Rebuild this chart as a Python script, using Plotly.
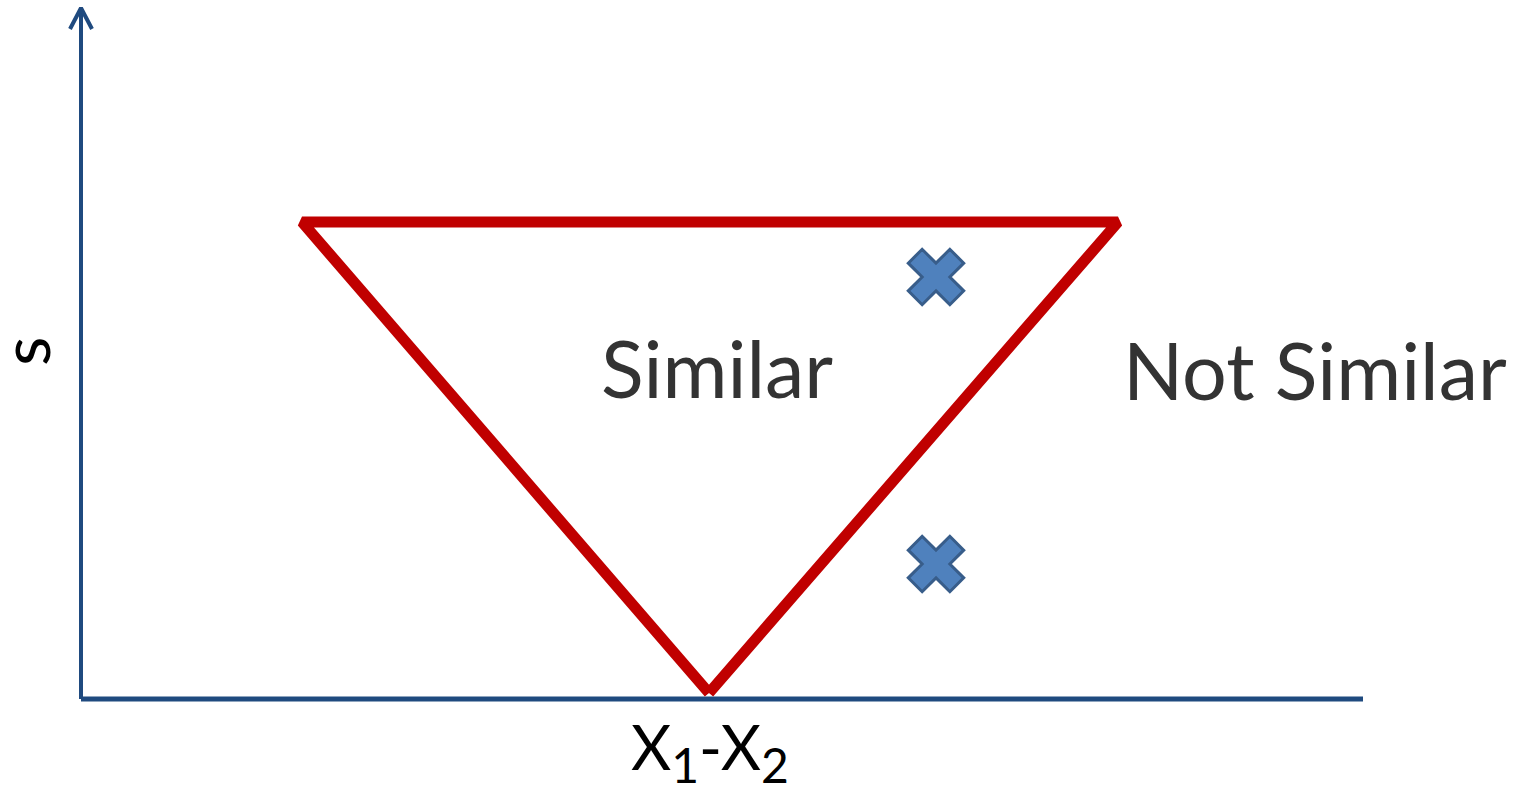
import plotly.graph_objects as go

# Chart-space coordinates (origin at the axes intersection)
axis_x_end = 1282
axis_y_end = 691

# Decision region (inverted triangle)
region_x = [628, 221, 1037, 628]
region_y = [6, 477, 477, 6]

# Sample points
point_x = [855, 855]
point_y = [422, 135]

# Arrow head on the vertical axis
arrow_x = [-11, 0, 11]
arrow_y = [670, 691, 670]

# Region labels
label_text = ["Similar", "Not Similar"]
label_x = [636, 1234]
label_y = [332, 330]

# Axis titles
x_title = ("X<sub><span style='font-size:48px'>1</span></sub>-"
           "X<sub><span style='font-size:48px'>2</span></sub>")
x_title_pos = (629, -52)
y_title = "s"
y_title_pos = (-58, 347)

BLUE = "#1F4A7F"
RED = "#C00000"

fig = go.Figure()

# x axis line
fig.add_trace(go.Scatter(x=[0, axis_x_end], y=[0, 0], mode="lines",
                         line=dict(color=BLUE, width=5), hoverinfo="skip"))
# y axis line
fig.add_trace(go.Scatter(x=[0, 0], y=[0, axis_y_end], mode="lines",
                         line=dict(color=BLUE, width=4), hoverinfo="skip"))
# arrow head
fig.add_trace(go.Scatter(x=arrow_x, y=arrow_y, mode="lines",
                         line=dict(color=BLUE, width=4), hoverinfo="skip"))
# triangle region
fig.add_trace(go.Scatter(x=region_x, y=region_y, mode="lines",
                         line=dict(color=RED, width=11), hoverinfo="skip"))
# points
fig.add_trace(go.Scatter(x=point_x, y=point_y, mode="markers",
                         marker=dict(symbol="x", size=49, color="#4F81BD",
                                     line=dict(color="#385D8A", width=3)),
                         hoverinfo="skip"))

for t, x, y in zip(label_text, label_x, label_y):
    fig.add_annotation(x=x, y=y, text=t, showarrow=False, xref="x", yref="y",
                       xanchor="center", yanchor="middle",
                       font=dict(family="Lato", size=79, color="#333333"))

fig.add_annotation(x=x_title_pos[0], y=x_title_pos[1], text=x_title, showarrow=False,
                   xref="x", yref="y", xanchor="center", yanchor="middle",
                   font=dict(family="Lato", size=62, color="#000000"))
fig.add_annotation(x=y_title_pos[0], y=y_title_pos[1], text=y_title, showarrow=False,
                   xref="x", yref="y", xanchor="center", yanchor="middle", textangle=-90,
                   font=dict(family="Lato", size=68, color="#000000"))

fig.update_layout(
    width=1521, height=797,
    margin=dict(l=0, r=0, t=0, b=0),
    paper_bgcolor="white", plot_bgcolor="white",
    showlegend=False,
    xaxis=dict(range=[-81, 1440], visible=False, fixedrange=True),
    yaxis=dict(range=[-98, 699], visible=False, fixedrange=True),
)

fig.write_html("out.html", config={"displayModeBar": False},
               post_script="document.body.style.margin='0';document.body.style.overflow='hidden';")
